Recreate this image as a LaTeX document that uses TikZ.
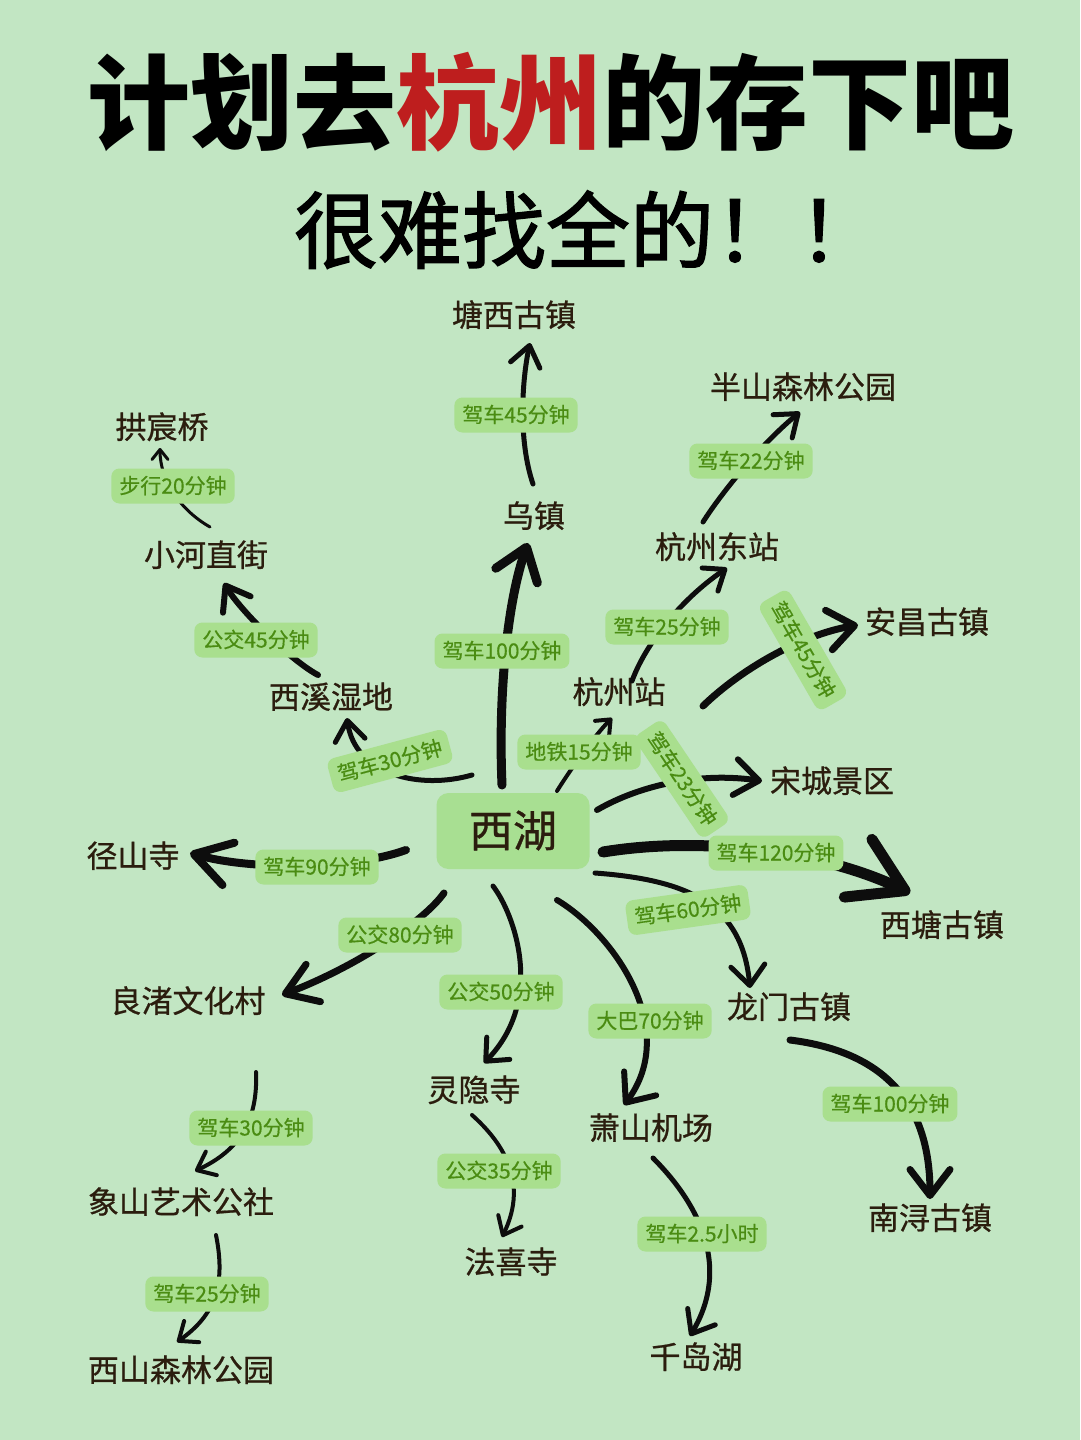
\documentclass[tikz,border=0pt]{standalone}
\usepackage{fontspec}
\usetikzlibrary{arrows.meta}
\newfontfamily\cjk{Noto Sans CJK SC}
\newfontfamily\cjkmid{Noto Sans CJK SC}[FakeBold=1.6]
\newfontfamily\cjkplace{Noto Sans CJK SC}[FakeBold=0.7]
\newfontfamily\cjklbl{Noto Sans CJK SC}[FakeBold=0.5]
\definecolor{bgcol}{HTML}{C2E6C3}
\definecolor{hubfill}{HTML}{A8DF92}
\definecolor{lblfill}{HTML}{A9DF8E}
\definecolor{lbltext}{HTML}{4A8C12}
\definecolor{placecol}{HTML}{2B1D0E}
\definecolor{titlered}{HTML}{BE1E1E}
\definecolor{inkcol}{HTML}{0D0D0D}
\tikzset{
  place/.style={font=\cjkplace\fontsize{31}{31}\selectfont, text=placecol, inner sep=0pt, text height=27pt, text depth=4pt},
  hub/.style={font=\cjkplace\fontsize{44}{44}\selectfont, text=placecol, fill=hubfill, rounded corners=12pt, minimum width=153pt, minimum height=76pt, inner sep=0pt, text height=38pt, text depth=6pt},
  lbl/.style={font=\cjklbl\fontsize{21}{21}\selectfont, text=lbltext, fill=lblfill, rounded corners=8pt, inner xsep=8pt, inner ysep=7pt, text height=18pt, text depth=3pt},
  edge/.style={draw=inkcol, line cap=round, line join=round, line width=#1},
  ar/.style 2 args={-{Straight Barb[length=#1, width=#2, round]}},
}
\begin{document}
\begin{tikzpicture}[x=1pt, y=-1pt]
\fill[bgcol] (0,0) rectangle (1080,1440);
\useasboundingbox (0,0) rectangle (1080,1440);

% titles
\node[font=\cjk\bfseries\fontsize{103}{103}\selectfont, inner sep=0pt, text height=90.6pt, text depth=12.4pt] (title1) at (551,102) {计划去\textcolor{titlered}{杭州}的存下吧};
\node[font=\cjkmid\fontsize{84}{84}\selectfont, inner sep=0pt, text height=74pt, text depth=10pt] (title2) at (588,230) {很难找全的！！};

% places
\node[place] (tangxi) at (514,315) {塘西古镇};
\node[place] (banshan) at (803,387) {半山森林公园};
\node[place] (gongchen) at (162,427) {拱宸桥};
\node[place] (wuzhen) at (534,516) {乌镇};
\node[place] (xiaohe) at (206,555) {小河直街};
\node[place] (hzdong) at (717,547) {杭州东站};
\node[place] (anchang) at (927,622) {安昌古镇};
\node[place] (xixi) at (331,697) {西溪湿地};
\node[place] (hzz) at (619,692) {杭州站};
\node[place] (songcheng) at (832,781) {宋城景区};
\node[hub] (xihu) at (513,831) {西湖};
\node[place] (jingshan) at (133,856) {径山寺};
\node[place] (xitang) at (942,925) {西塘古镇};
\node[place] (liangzhu) at (188,1001) {良渚文化村};
\node[place] (longmen) at (789,1007) {龙门古镇};
\node[place] (lingyin) at (474,1090) {灵隐寺};
\node[place] (xiaoshan) at (651,1128) {萧山机场};
\node[place] (xiangshan) at (181,1202) {象山艺术公社};
\node[place] (nanxun) at (930,1218) {南浔古镇};
\node[place] (faxi) at (511,1262) {法喜寺};
\node[place] (qiandao) at (696,1357) {千岛湖};
\node[place] (xishan) at (181,1370) {西山森林公园};

% connectors
\draw[edge=9pt, ar={30pt}{44pt}] ([shift={(-11,-46)}]xihu.center) .. controls (498,690) and (508,600) .. ([shift={(-6,27)}]wuzhen.center);
\draw[edge=5pt, ar={20pt}{30pt}] ([shift={(-1,-32)}]wuzhen.center) .. controls (518,440) and (522,380) .. ([shift={(16,28)}]tangxi.center);
\draw[edge=5pt, ar={20pt}{30pt}] ([shift={(-14,-25)}]hzdong.center) .. controls (720,495) and (760,445) .. ([shift={(-3,25)}]banshan.center);
\draw[edge=5pt, ar={18pt}{28pt}] ([shift={(13,-11)}]hzz.center) .. controls (645,645) and (680,600) .. ([shift={(10,21)}]hzdong.center);
\draw[edge=7pt, ar={26pt}{40pt}] ([shift={(190,-125)}]xihu.center) .. controls (740,670) and (800,635) .. ([shift={(-69,3)}]anchang.center);
\draw[edge=4pt, ar={12pt}{20pt}] ([shift={(44,-40)}]xihu.center) .. controls (570,770) and (595,735) .. ([shift={(-7,26)}]hzz.center);
\draw[edge=6pt, ar={24pt}{36pt}] ([shift={(84,-21)}]xihu.center) .. controls (640,785) and (700,772) .. ([shift={(-70,0)}]songcheng.center);
\draw[edge=11pt, ar={52pt}{64pt}] ([shift={(90,21)}]xihu.center) .. controls (700,836) and (820,850) .. ([shift={(-32,-32)}]xitang.center);
\draw[edge=5pt, ar={20pt}{34pt}] ([shift={(82,42)}]xihu.center) .. controls (690,880) and (742,905) .. ([shift={(-39,-19)}]longmen.center);
\draw[edge=6pt, ar={24pt}{40pt}] ([shift={(44,69)}]xihu.center) .. controls (615,935) and (680,1030) .. ([shift={(-27,-23)}]xiaoshan.center);
\draw[edge=5pt, ar={18pt}{32pt}] ([shift={(-20,55)}]xihu.center) .. controls (515,915) and (545,1000) .. ([shift={(10,-27)}]lingyin.center);
\draw[edge=7pt, ar={30pt}{40pt}] ([shift={(-69,62)}]xihu.center) .. controls (425,920) and (360,965) .. ([shift={(94,-6)}]liangzhu.center);
\draw[edge=8pt, ar={36pt}{44pt}] ([shift={(-107,19)}]xihu.center) .. controls (350,870) and (250,870) .. ([shift={(57,-3)}]jingshan.center);
\draw[edge=5pt, ar={20pt}{30pt}] ([shift={(-41,-56)}]xihu.center) .. controls (420,790) and (355,775) .. ([shift={(16,21)}]xixi.center);
\draw[edge=6pt, ar={22pt}{32pt}] ([shift={(-13,-22)}]xixi.center) .. controls (290,660) and (240,610) .. ([shift={(18,28)}]xiaohe.center);
\draw[edge=3pt, ar={10pt}{16pt}] ([shift={(4,-28)}]xiaohe.center) .. controls (180,510) and (160,480) .. ([shift={(-2,21)}]gongchen.center);
\draw[edge=4pt, ar={16pt}{26pt}] ([shift={(68,71)}]liangzhu.center) .. controls (258,1120) and (240,1150) .. ([shift={(14,-31)}]xiangshan.center);
\draw[edge=4pt, ar={16pt}{26pt}] ([shift={(35,33)}]xiangshan.center) .. controls (226,1285) and (215,1315) .. ([shift={(-4,-28)}]xishan.center);
\draw[edge=4pt, ar={16pt}{26pt}] ([shift={(-2,25)}]lingyin.center) .. controls (500,1140) and (530,1180) .. ([shift={(-9,-25)}]faxi.center);
\draw[edge=5pt, ar={20pt}{32pt}] ([shift={(2,30)}]xiaoshan.center) .. controls (690,1195) and (735,1260) .. ([shift={(-6,-21)}]qiandao.center);
\draw[edge=7pt, ar={26pt}{40pt}] ([shift={(1,33)}]longmen.center) .. controls (870,1050) and (930,1090) .. ([shift={(0,-19)}]nanxun.center);

% labels
\node[lbl] (l1) at (516,415) {驾车45分钟};
\node[lbl] (l2) at (751,461) {驾车22分钟};
\node[lbl] (l3) at (173,486) {步行20分钟};
\node[lbl] (l4) at (256,640) {公交45分钟};
\node[lbl] (l5) at (667,627) {驾车25分钟};
\node[lbl, rotate=-60] (l6) at (803,650) {驾车45分钟};
\node[lbl] (l7) at (502,651) {驾车100分钟};
\node[lbl] (l8) at (579,752) {地铁15分钟};
\node[lbl, rotate=-56] (l9) at (682,779) {驾车23分钟};
\node[lbl, rotate=15] (l10) at (390,761) {驾车30分钟};
\node[lbl] (l11) at (317,867) {驾车90分钟};
\node[lbl] (l12) at (776,853) {驾车120分钟};
\node[lbl, rotate=8] (l13) at (688,910) {驾车60分钟};
\node[lbl] (l14) at (400,935) {公交80分钟};
\node[lbl] (l15) at (501,992) {公交50分钟};
\node[lbl] (l16) at (650,1021) {大巴70分钟};
\node[lbl] (l17) at (251,1128) {驾车30分钟};
\node[lbl] (l18) at (890,1104) {驾车100分钟};
\node[lbl] (l19) at (499,1171) {公交35分钟};
\node[lbl] (l20) at (702,1234) {驾车2.5小时};
\node[lbl] (l21) at (207,1294) {驾车25分钟};
\end{tikzpicture}
\end{document}
